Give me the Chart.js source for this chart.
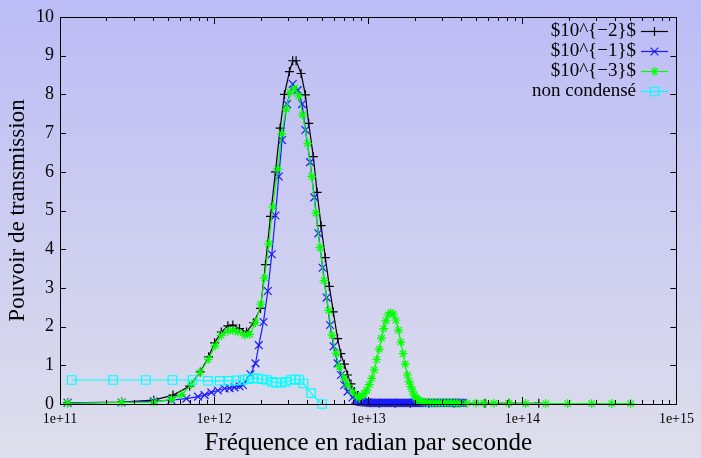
<!DOCTYPE html>
<html>
<head>
<meta charset="utf-8">
<script src="https://cdn.jsdelivr.net/npm/chart.js"></script>
<style>
  body { margin: 0; background: #fff; }
  #wrap { width: 701px; height: 458px; }
</style>
</head>
<body>
<div id="wrap"><canvas id="myChart" width="701" height="458"></canvas></div>
<script>
// tick positions
const xTicks = [1e11, 1e12, 1e13, 1e14, 1e15];
const seriesLabels = ['$10^{\u22122}$', '$10^{\u22121}$', '$10^{\u22123}$', 'non condensé'];

// $10^{-2}$ (black +)
const freq2 = [1.12e11, 2.51e11, 4.06e11, 5.41e11, 6.94e11, 8.14e11, 9.21e11, 1.007e12, 1.113e12, 1.228e12,
    1.323e12, 1.462e12, 1.623e12, 1.802e12, 2.00e12, 2.154e12, 2.321e12, 2.501e12, 2.683e12, 2.860e12,
    3.081e12, 3.236e12, 3.404e12, 3.667e12, 3.910e12, 4.108e12, 4.406e12, 4.656e12, 4.942e12, 5.270e12,
    5.593e12, 5.936e12, 6.328e12, 6.637e12, 6.993e12, 7.345e12, 7.727e12, 8.119e12, 8.523e12, 9.010e12,
    9.563e12, 1.030e13, 1.178e13, 1.496e13, 1.870e13, 2.482e13, 3.603e13, 5.719e13, 8.178e13, 1.279e14];
const trans2 = [0.03, 0.05, 0.10, 0.23, 0.46, 0.83, 1.22, 1.58, 1.86, 2.02,
    2.04, 1.95, 1.86, 2.10, 2.47, 3.6, 4.85, 6.0, 7.13, 8.0,
    8.59, 8.87, 8.87, 8.54, 7.99, 7.25, 6.39, 5.47, 4.61, 3.78,
    3.04, 2.38, 1.69, 1.30, 1.03, 0.75, 0.52, 0.32, 0.19, 0.10,
    0.05, 0.03, 0.02, 0.02, 0.02, 0.02, 0.02, 0.02, 0.02, 0.02];

// $10^{-1}$ (blue x)
const freq1 = [1.12e11, 2.51e11, 4.06e11, 5.28e11, 6.61e11, 7.86e11, 8.68e11, 9.59e11, 1.058e12, 1.169e12,
    1.260e12, 1.357e12, 1.462e12, 1.536e12, 1.723e12, 1.856e12, 1.950e12, 2.091e12, 2.230e12, 2.367e12,
    2.501e12, 2.627e12, 2.763e12, 2.969e12, 3.236e12, 3.486e12, 3.723e12, 3.910e12, 4.195e12, 4.472e12,
    4.747e12, 5.061e12, 5.372e12, 5.650e12, 5.962e12, 6.328e12, 6.657e12, 6.993e12, 7.345e12, 7.916e12,
    8.24e12, 8.43e12, 8.62e12, 8.81e12, 9.01e12, 9.21e12, 9.42e12, 9.63e12, 9.85e12, 1.007e13,
    1.030e13, 1.053e13, 1.077e13, 1.101e13, 1.127e13, 1.152e13, 1.178e13, 1.205e13, 1.232e13, 1.260e13,
    1.288e13, 1.317e13, 1.347e13, 1.377e13, 1.409e13, 1.441e13, 1.473e13, 1.506e13, 1.541e13, 1.576e13,
    1.611e13, 1.647e13, 1.685e13, 1.723e13, 1.762e13, 1.802e13, 1.842e13, 1.884e13, 1.926e13, 1.970e13,
    2.015e13, 2.061e13, 2.107e13, 2.155e13, 2.203e13, 2.253e13, 2.304e13, 2.356e13, 2.409e13, 2.463e13,
    2.519e13, 2.576e13, 2.634e13, 2.694e13, 2.755e13, 2.817e13, 2.881e13, 2.946e13, 3.013e13, 3.081e13,
    3.150e13, 3.221e13, 3.294e13, 3.368e13, 3.445e13, 3.523e13, 3.603e13, 3.684e13, 3.767e13, 3.852e13,
    3.939e13, 4.028e13, 4.119e13];
const trans1 = [0.03, 0.04, 0.07, 0.10, 0.14, 0.19, 0.23, 0.30, 0.35, 0.40,
    0.41, 0.43, 0.46, 0.49, 0.77, 1.05, 1.52, 2.12, 2.92, 3.87,
    4.87, 5.88, 6.82, 7.75, 8.27, 8.11, 7.75, 7.08, 6.25, 5.34,
    4.41, 3.52, 2.75, 2.04, 1.49, 1.05, 0.75, 0.49, 0.32, 0.17,
    0.10, 0.08, 0.07, 0.06, 0.05, 0.05, 0.04, 0.04, 0.04, 0.04,
    0.03, 0.03, 0.03, 0.03, 0.03, 0.03, 0.03, 0.03, 0.03, 0.03,
    0.03, 0.03, 0.03, 0.03, 0.03, 0.03, 0.03, 0.03, 0.03, 0.03,
    0.03, 0.03, 0.03, 0.03, 0.03, 0.03, 0.03, 0.03, 0.03, 0.03,
    0.03, 0.03, 0.03, 0.03, 0.03, 0.03, 0.03, 0.03, 0.03, 0.03,
    0.03, 0.03, 0.03, 0.03, 0.03, 0.03, 0.03, 0.03, 0.03, 0.03,
    0.03, 0.03, 0.03, 0.03, 0.03, 0.03, 0.03, 0.03, 0.03, 0.03,
    0.03, 0.03, 0.03];

// $10^{-3}$ (green *)
const freq3 = [1.12e11, 2.51e11, 4.06e11, 5.28e11, 6.16e11, 7.15e11, 8.12e11, 9.17e11, 1.015e12, 1.113e12,
    1.228e12, 1.323e12, 1.426e12, 1.576e12, 1.698e12, 1.856e12, 2.009e12, 2.123e12, 2.263e12, 2.402e12,
    2.588e12, 2.747e12, 2.933e12, 3.113e12, 3.319e12, 3.539e12, 3.756e12, 4.047e12, 4.295e12, 4.573e12,
    4.868e12, 5.167e12, 5.534e12, 5.821e12, 6.178e12, 6.490e12, 6.993e12, 7.345e12, 7.916e12, 8.402e12,
    8.745e12, 9.08e12, 9.42e12, 9.78e12, 1.015e13, 1.054e13, 1.094e13, 1.135e13, 1.178e13, 1.219e13,
    1.260e13, 1.302e13, 1.347e13, 1.398e13, 1.451e13, 1.511e13, 1.571e13, 1.628e13, 1.685e13, 1.736e13,
    1.796e13, 1.842e13, 1.890e13, 1.941e13, 1.985e13, 2.036e13, 2.085e13, 2.138e13, 2.193e13, 2.304e13,
    2.409e13, 2.519e13, 2.634e13, 2.755e13, 2.881e13, 3.013e13, 3.150e13, 3.294e13, 3.445e13, 3.603e13,
    3.767e13, 3.939e13, 4.37e13, 5.00e13, 5.63e13, 6.54e13, 8.18e13, 1.05e14, 1.42e14, 1.97e14,
    2.82e14, 3.80e14, 5.04e14];
const trans3 = [0.02, 0.04, 0.05, 0.12, 0.24, 0.51, 0.82, 1.15, 1.50, 1.77,
    1.88, 1.90, 1.86, 1.78, 1.80, 2.10, 2.58, 3.26, 4.14, 5.09,
    6.07, 6.98, 7.62, 8.05, 8.16, 7.96, 7.47, 6.73, 5.88, 4.93,
    4.04, 3.19, 2.42, 1.78, 1.31, 0.96, 0.66, 0.49, 0.32, 0.21,
    0.15, 0.20, 0.27, 0.36, 0.50, 0.66, 0.88, 1.15, 1.42, 1.70,
    1.95, 2.15, 2.30, 2.36, 2.32, 2.17, 1.91, 1.60, 1.30, 1.03,
    0.75, 0.58, 0.45, 0.33, 0.23, 0.17, 0.12, 0.09, 0.07, 0.05,
    0.04, 0.04, 0.03, 0.03, 0.03, 0.03, 0.03, 0.03, 0.03, 0.03,
    0.02, 0.02, 0.02, 0.02, 0.02, 0.02, 0.02, 0.01, 0.01, 0.01,
    0.01, 0.01, 0.01];

// non condensé (cyan squares)
const freqNc = [1.19e11, 2.21e11, 3.60e11, 5.36e11, 7.23e11, 9.12e11, 1.086e12, 1.247e12, 1.392e12, 1.536e12,
    1.655e12, 1.783e12, 1.921e12, 2.051e12, 2.196e12, 2.381e12, 2.527e12, 2.723e12, 2.933e12, 3.161e12,
    3.369e12, 3.576e12, 3.795e12, 4.257e12, 5.015e12];
const transNc = [0.62, 0.62, 0.62, 0.62, 0.62, 0.60, 0.60, 0.60, 0.61, 0.62,
    0.64, 0.66, 0.66, 0.64, 0.62, 0.57, 0.55, 0.55, 0.57, 0.62,
    0.64, 0.62, 0.53, 0.28, 0.0];

const serif = '"Liberation Serif", "Times New Roman", serif';

function pairs(xs, ys) {
    return xs.map((x, i) => ({ x: x, y: ys[i] }));
}

function markerPath(ctx, style, x, y, r) {
    ctx.beginPath();
    if (style === 'cross' || style === 'star') {
        ctx.moveTo(x - r, y); ctx.lineTo(x + r, y);
        ctx.moveTo(x, y - r); ctx.lineTo(x, y + r);
    }
    if (style === 'crossRot' || style === 'star') {
        var d = r * Math.SQRT1_2;
        ctx.moveTo(x - d, y - d); ctx.lineTo(x + d, y + d);
        ctx.moveTo(x - d, y + d); ctx.lineTo(x + d, y - d);
    }
    if (style === 'rect') {
        var s = r * Math.SQRT1_2;
        ctx.rect(x - s, y - s, 2 * s, 2 * s);
    }
    ctx.stroke();
}

// gradient background, gnuplot style frame with inward ticks, legend
const frame = {
    id: 'frame',
    beforeDraw(chart) {
        const ctx = chart.ctx;
        const g = ctx.createLinearGradient(0, 0, 0, chart.height);
        g.addColorStop(0, 'rgb(188,188,246)');
        g.addColorStop(1, 'rgb(222,222,236)');
        ctx.save();
        ctx.fillStyle = g;
        ctx.fillRect(0, 0, chart.width, chart.height);
        ctx.restore();
    },
    afterDraw(chart) {
        const ctx = chart.ctx;
        const a = chart.chartArea;
        const xs = chart.scales.x, ys = chart.scales.y;
        ctx.save();
        ctx.strokeStyle = '#000';
        ctx.lineWidth = 1;
        ctx.beginPath();
        // x ticks, major and minor, bottom and top
        for (let k = 11; k <= 15; k++) {
            for (let m = 1; m <= 9; m++) {
                const v = m * Math.pow(10, k);
                if (v > 1e15) break;
                const px = Math.round(xs.getPixelForValue(v)) + 0.5;
                const len = m === 1 ? 7 : 4;
                ctx.moveTo(px, a.bottom); ctx.lineTo(px, a.bottom - len);
                ctx.moveTo(px, a.top); ctx.lineTo(px, a.top + len);
            }
        }
        // y ticks left and right
        for (let v = 0; v <= 10; v++) {
            const py = Math.round(ys.getPixelForValue(v)) + 0.5;
            ctx.moveTo(a.left, py); ctx.lineTo(a.left + 6, py);
            ctx.moveTo(a.right, py); ctx.lineTo(a.right - 6, py);
        }
        ctx.stroke();
        ctx.strokeRect(Math.round(a.left) + 0.5, Math.round(a.top) + 0.5,
            Math.round(a.right - a.left), Math.round(a.bottom - a.top));

        // legend
        ctx.font = '19px ' + serif;
        ctx.textAlign = 'right';
        ctx.textBaseline = 'middle';
        chart.data.datasets.forEach((ds, i) => {
            const y = 31.5 + 20 * i;
            ctx.fillStyle = '#000';
            ctx.fillText(ds.label, 636, y);
            ctx.strokeStyle = ds.borderColor;
            ctx.lineWidth = ds.borderWidth;
            ctx.beginPath();
            ctx.moveTo(641, y); ctx.lineTo(668, y);
            ctx.stroke();
            markerPath(ctx, ds.pointStyle, 654.5, y, ds.pointRadius);
        });
        ctx.restore();
    }
};

function makeSet(label, xs, ys, color, style, radius, order) {
    return {
        label: label,
        data: pairs(xs, ys),
        borderColor: color,
        backgroundColor: color,
        borderWidth: 1.2,
        pointStyle: style,
        pointRadius: radius,
        pointBorderColor: color,
        pointBackgroundColor: 'rgba(0,0,0,0)',
        pointBorderWidth: 1.2,
        tension: 0,
        clip: false,
        order: order
    };
}

const ctx = document.getElementById('myChart').getContext('2d');
const myChart = new Chart(ctx, {
    type: 'line',
    data: {
        datasets: [
            makeSet(seriesLabels[0], freq2, trans2, '#000000', 'cross', 4.5, 4),
            makeSet(seriesLabels[1], freq1, trans1, '#1a1aff', 'crossRot', 5.5, 3),
            makeSet(seriesLabels[2], freq3, trans3, '#00ff00', 'star', 4.5, 2),
            makeSet(seriesLabels[3], freqNc, transNc, '#00ffff', 'rect', 6, 1)
        ]
    },
    options: {
        responsive: false,
        animation: false,
        layout: { padding: { top: 17, right: 23, left: 0, bottom: 0 } },
        plugins: {
            legend: { display: false },
            tooltip: { enabled: false }
        },
        scales: {
            x: {
                type: 'logarithmic',
                min: 1e11,
                max: 1e15,
                afterBuildTicks: s => { s.ticks = xTicks.map(v => ({ value: v })); },
                afterFit: s => { s.height = 54; },
                grid: { display: false, drawTicks: false },
                border: { display: false },
                ticks: {
                    autoSkip: false,
                    maxRotation: 0,
                    padding: 7,
                    color: '#000',
                    font: { family: serif, size: 14 },
                    callback: v => '1e+' + Math.round(Math.log10(v))
                },
                title: {
                    display: true,
                    text: 'Fréquence en radian par seconde',
                    color: '#000',
                    font: { family: serif, size: 25 },
                    padding: { top: 0, bottom: 0 }
                }
            },
            y: {
                min: 0,
                max: 10,
                afterFit: s => { s.width = 60; },
                grid: { display: false, drawTicks: false },
                border: { display: false },
                ticks: {
                    stepSize: 1,
                    padding: 6,
                    color: '#000',
                    font: { family: serif, size: 18 }
                },
                title: {
                    display: true,
                    text: 'Pouvoir de transmission',
                    color: '#000',
                    font: { family: serif, size: 23 },
                    padding: { top: 4, bottom: 0 }
                }
            }
        }
    },
    plugins: [frame]
});
</script>
</body>
</html>
